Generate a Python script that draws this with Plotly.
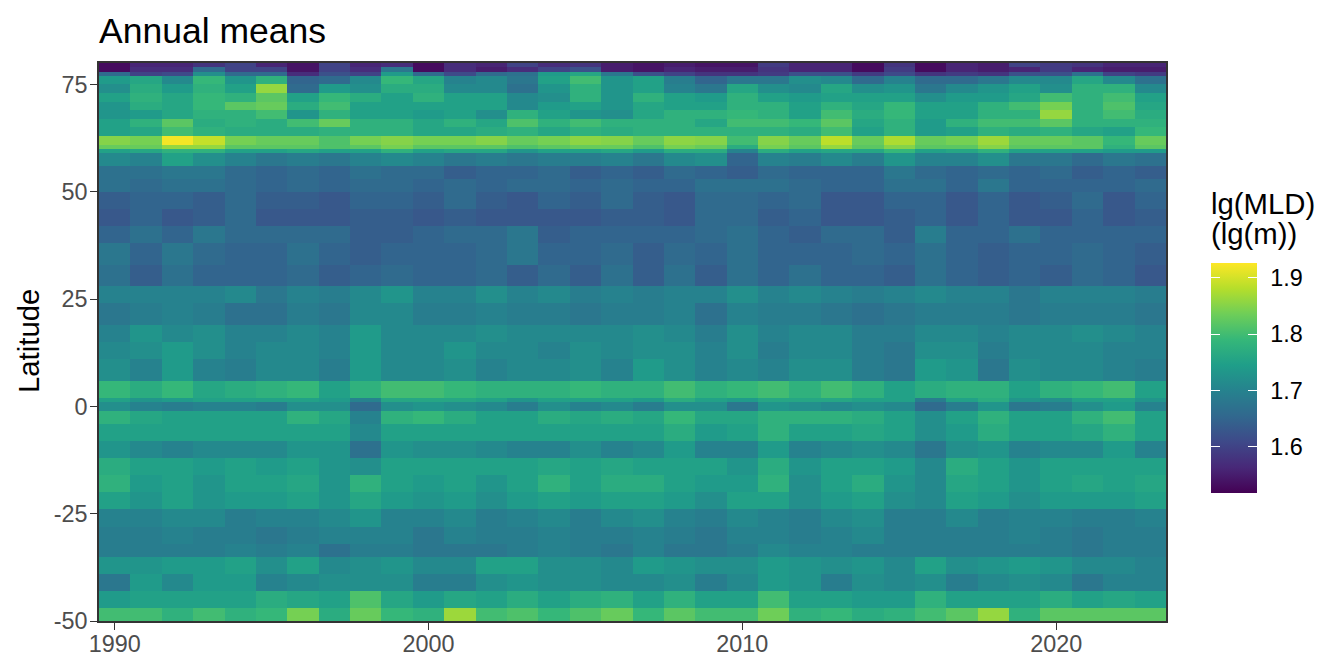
#!/usr/bin/env python3
"""
Annual mean mixed layer depth by latitude and year
"""

import plotly.graph_objects as go

years = list(range(1990, 2024))

# band edges in degrees, north to south (one more than rows in mld)
lat_edges = [80, 79, 78, 77, 75, 73, 71, 69, 67, 65, 63, 61, 60, 59, 56, 53, 50, 46, 42, 38, 33, 28,
             24, 19, 15, 11, 6, 2, 1, -1, -4, -8, -12, -16, -20, -24, -28, -32, -35, -39, -43, -47, -50]

# lg(MLD), one row per latitude band, one column per year
mld = [
    [1.53, 1.56, 1.56, 1.58, 1.60, 1.56, 1.54, 1.60, 1.56, 1.57, 1.53, 1.57, 1.56, 1.60, 1.57, 1.58, 1.55, 1.54, 1.55, 1.54, 1.54, 1.59, 1.56, 1.56, 1.53, 1.58, 1.53, 1.56, 1.55, 1.60, 1.59, 1.58, 1.56, 1.56],
    [1.53, 1.57, 1.57, 1.66, 1.60, 1.60, 1.54, 1.60, 1.57, 1.68, 1.53, 1.57, 1.55, 1.57, 1.60, 1.62, 1.55, 1.54, 1.56, 1.55, 1.55, 1.58, 1.56, 1.56, 1.53, 1.59, 1.53, 1.56, 1.55, 1.56, 1.59, 1.56, 1.55, 1.55],
    [1.66, 1.60, 1.61, 1.72, 1.66, 1.66, 1.57, 1.62, 1.60, 1.74, 1.66, 1.61, 1.66, 1.67, 1.74, 1.76, 1.68, 1.62, 1.60, 1.58, 1.58, 1.59, 1.62, 1.62, 1.59, 1.61, 1.58, 1.59, 1.58, 1.62, 1.62, 1.67, 1.60, 1.59],
    [1.74, 1.76, 1.71, 1.79, 1.73, 1.78, 1.65, 1.66, 1.71, 1.79, 1.76, 1.70, 1.71, 1.68, 1.75, 1.80, 1.73, 1.75, 1.69, 1.65, 1.68, 1.68, 1.72, 1.71, 1.66, 1.70, 1.66, 1.66, 1.68, 1.71, 1.71, 1.76, 1.71, 1.67],
    [1.72, 1.77, 1.74, 1.78, 1.75, 1.86, 1.66, 1.74, 1.72, 1.77, 1.77, 1.71, 1.71, 1.67, 1.73, 1.78, 1.73, 1.75, 1.70, 1.68, 1.76, 1.72, 1.71, 1.76, 1.72, 1.73, 1.68, 1.71, 1.73, 1.75, 1.72, 1.78, 1.78, 1.71],
    [1.75, 1.78, 1.76, 1.79, 1.78, 1.82, 1.75, 1.79, 1.77, 1.75, 1.78, 1.75, 1.75, 1.71, 1.72, 1.78, 1.73, 1.78, 1.75, 1.74, 1.78, 1.75, 1.74, 1.75, 1.75, 1.75, 1.72, 1.74, 1.74, 1.76, 1.80, 1.78, 1.80, 1.75],
    [1.73, 1.77, 1.76, 1.79, 1.82, 1.83, 1.77, 1.80, 1.75, 1.75, 1.75, 1.75, 1.75, 1.71, 1.74, 1.75, 1.73, 1.76, 1.75, 1.75, 1.78, 1.78, 1.75, 1.78, 1.76, 1.79, 1.75, 1.75, 1.78, 1.80, 1.84, 1.78, 1.81, 1.76],
    [1.73, 1.74, 1.76, 1.78, 1.78, 1.80, 1.73, 1.78, 1.75, 1.75, 1.74, 1.75, 1.72, 1.78, 1.75, 1.73, 1.72, 1.76, 1.78, 1.78, 1.79, 1.78, 1.75, 1.80, 1.77, 1.79, 1.75, 1.75, 1.78, 1.78, 1.86, 1.78, 1.80, 1.77],
    [1.75, 1.78, 1.82, 1.77, 1.78, 1.77, 1.80, 1.83, 1.78, 1.78, 1.76, 1.78, 1.76, 1.81, 1.78, 1.80, 1.78, 1.78, 1.78, 1.76, 1.80, 1.80, 1.79, 1.82, 1.76, 1.78, 1.74, 1.78, 1.80, 1.80, 1.82, 1.78, 1.78, 1.78],
    [1.75, 1.76, 1.80, 1.78, 1.77, 1.77, 1.77, 1.78, 1.78, 1.78, 1.76, 1.76, 1.77, 1.78, 1.76, 1.78, 1.77, 1.78, 1.78, 1.78, 1.78, 1.78, 1.77, 1.80, 1.75, 1.78, 1.74, 1.75, 1.78, 1.77, 1.78, 1.76, 1.75, 1.79],
    [1.85, 1.84, 1.92, 1.89, 1.84, 1.83, 1.83, 1.81, 1.84, 1.85, 1.84, 1.84, 1.85, 1.83, 1.84, 1.855, 1.85, 1.83, 1.855, 1.85, 1.80, 1.85, 1.83, 1.885, 1.83, 1.875, 1.83, 1.84, 1.865, 1.83, 1.83, 1.82, 1.79, 1.83],
    [1.83, 1.83, 1.86, 1.86, 1.82, 1.82, 1.82, 1.81, 1.82, 1.84, 1.82, 1.82, 1.82, 1.81, 1.82, 1.83, 1.83, 1.81, 1.84, 1.83, 1.77, 1.84, 1.82, 1.86, 1.82, 1.85, 1.82, 1.82, 1.85, 1.82, 1.82, 1.82, 1.78, 1.82],
    [1.75, 1.76, 1.78, 1.78, 1.75, 1.75, 1.76, 1.75, 1.75, 1.78, 1.75, 1.76, 1.76, 1.73, 1.75, 1.75, 1.76, 1.74, 1.77, 1.77, 1.70, 1.77, 1.75, 1.76, 1.76, 1.79, 1.75, 1.76, 1.78, 1.75, 1.75, 1.75, 1.74, 1.74],
    [1.71, 1.70, 1.75, 1.72, 1.70, 1.68, 1.69, 1.68, 1.70, 1.71, 1.70, 1.68, 1.69, 1.68, 1.69, 1.69, 1.70, 1.68, 1.71, 1.72, 1.65, 1.70, 1.69, 1.71, 1.69, 1.73, 1.70, 1.70, 1.72, 1.68, 1.68, 1.66, 1.68, 1.67],
    [1.67, 1.67, 1.68, 1.68, 1.66, 1.65, 1.66, 1.65, 1.67, 1.66, 1.66, 1.64, 1.65, 1.65, 1.66, 1.64, 1.65, 1.64, 1.66, 1.65, 1.64, 1.66, 1.65, 1.65, 1.65, 1.68, 1.66, 1.65, 1.66, 1.65, 1.66, 1.64, 1.65, 1.64],
    [1.67, 1.66, 1.67, 1.67, 1.66, 1.65, 1.66, 1.65, 1.66, 1.66, 1.65, 1.66, 1.65, 1.66, 1.66, 1.65, 1.66, 1.65, 1.65, 1.67, 1.67, 1.67, 1.66, 1.65, 1.65, 1.67, 1.67, 1.65, 1.68, 1.65, 1.65, 1.65, 1.65, 1.66],
    [1.64, 1.65, 1.65, 1.64, 1.66, 1.64, 1.64, 1.63, 1.65, 1.65, 1.64, 1.66, 1.64, 1.63, 1.65, 1.64, 1.66, 1.64, 1.63, 1.66, 1.66, 1.65, 1.66, 1.63, 1.63, 1.65, 1.65, 1.63, 1.65, 1.63, 1.64, 1.66, 1.63, 1.65],
    [1.63, 1.65, 1.63, 1.64, 1.66, 1.63, 1.63, 1.63, 1.64, 1.64, 1.63, 1.64, 1.63, 1.63, 1.63, 1.63, 1.64, 1.64, 1.63, 1.66, 1.66, 1.64, 1.65, 1.63, 1.63, 1.64, 1.65, 1.63, 1.65, 1.63, 1.63, 1.65, 1.63, 1.64],
    [1.65, 1.67, 1.65, 1.68, 1.66, 1.66, 1.66, 1.66, 1.64, 1.64, 1.65, 1.66, 1.66, 1.68, 1.64, 1.65, 1.65, 1.65, 1.65, 1.66, 1.67, 1.65, 1.64, 1.66, 1.66, 1.64, 1.69, 1.65, 1.65, 1.67, 1.65, 1.65, 1.65, 1.65],
    [1.68, 1.65, 1.68, 1.66, 1.65, 1.65, 1.67, 1.65, 1.64, 1.65, 1.65, 1.65, 1.66, 1.68, 1.65, 1.65, 1.66, 1.64, 1.66, 1.65, 1.67, 1.65, 1.65, 1.65, 1.66, 1.65, 1.67, 1.65, 1.64, 1.65, 1.65, 1.66, 1.65, 1.64],
    [1.67, 1.64, 1.67, 1.65, 1.65, 1.65, 1.66, 1.64, 1.65, 1.66, 1.65, 1.65, 1.66, 1.64, 1.66, 1.64, 1.67, 1.64, 1.67, 1.64, 1.67, 1.65, 1.67, 1.65, 1.65, 1.64, 1.67, 1.65, 1.64, 1.65, 1.64, 1.66, 1.65, 1.63],
    [1.70, 1.70, 1.70, 1.70, 1.71, 1.68, 1.70, 1.69, 1.71, 1.73, 1.70, 1.70, 1.72, 1.70, 1.71, 1.69, 1.70, 1.69, 1.70, 1.70, 1.72, 1.70, 1.71, 1.70, 1.69, 1.70, 1.71, 1.70, 1.70, 1.68, 1.70, 1.70, 1.70, 1.69],
    [1.68, 1.69, 1.70, 1.69, 1.67, 1.67, 1.69, 1.68, 1.71, 1.71, 1.69, 1.69, 1.70, 1.69, 1.69, 1.68, 1.69, 1.69, 1.70, 1.67, 1.70, 1.69, 1.69, 1.68, 1.67, 1.68, 1.69, 1.69, 1.69, 1.68, 1.69, 1.69, 1.69, 1.68],
    [1.70, 1.73, 1.71, 1.72, 1.70, 1.70, 1.71, 1.70, 1.74, 1.71, 1.71, 1.71, 1.72, 1.71, 1.71, 1.71, 1.71, 1.72, 1.71, 1.69, 1.72, 1.70, 1.71, 1.71, 1.69, 1.69, 1.71, 1.71, 1.70, 1.71, 1.71, 1.72, 1.71, 1.70],
    [1.71, 1.72, 1.74, 1.72, 1.70, 1.71, 1.71, 1.70, 1.74, 1.71, 1.71, 1.73, 1.71, 1.71, 1.70, 1.72, 1.71, 1.72, 1.72, 1.70, 1.72, 1.69, 1.71, 1.71, 1.69, 1.68, 1.72, 1.72, 1.69, 1.71, 1.71, 1.71, 1.70, 1.70],
    [1.72, 1.70, 1.74, 1.70, 1.69, 1.71, 1.71, 1.69, 1.74, 1.71, 1.71, 1.72, 1.70, 1.71, 1.71, 1.72, 1.70, 1.74, 1.72, 1.70, 1.71, 1.70, 1.72, 1.72, 1.69, 1.68, 1.74, 1.73, 1.68, 1.72, 1.71, 1.71, 1.70, 1.69],
    [1.79, 1.77, 1.79, 1.76, 1.77, 1.78, 1.79, 1.75, 1.78, 1.80, 1.80, 1.79, 1.78, 1.78, 1.78, 1.79, 1.78, 1.78, 1.80, 1.78, 1.79, 1.80, 1.78, 1.80, 1.78, 1.75, 1.77, 1.78, 1.78, 1.75, 1.78, 1.79, 1.80, 1.75],
    [1.75, 1.73, 1.74, 1.75, 1.75, 1.75, 1.75, 1.74, 1.70, 1.76, 1.76, 1.76, 1.75, 1.73, 1.75, 1.75, 1.75, 1.74, 1.77, 1.75, 1.74, 1.76, 1.76, 1.76, 1.75, 1.75, 1.69, 1.75, 1.77, 1.73, 1.72, 1.75, 1.75, 1.73],
    [1.72, 1.70, 1.69, 1.70, 1.70, 1.69, 1.72, 1.72, 1.66, 1.72, 1.73, 1.72, 1.71, 1.69, 1.72, 1.70, 1.71, 1.69, 1.72, 1.72, 1.68, 1.73, 1.72, 1.71, 1.72, 1.71, 1.66, 1.69, 1.73, 1.68, 1.69, 1.72, 1.74, 1.70],
    [1.78, 1.76, 1.75, 1.75, 1.75, 1.75, 1.78, 1.76, 1.70, 1.78, 1.79, 1.77, 1.75, 1.75, 1.77, 1.76, 1.77, 1.76, 1.79, 1.76, 1.76, 1.78, 1.78, 1.78, 1.77, 1.75, 1.72, 1.75, 1.78, 1.75, 1.75, 1.78, 1.80, 1.75],
    [1.75, 1.75, 1.75, 1.75, 1.75, 1.75, 1.75, 1.75, 1.71, 1.75, 1.75, 1.75, 1.75, 1.75, 1.75, 1.75, 1.75, 1.75, 1.77, 1.74, 1.75, 1.78, 1.75, 1.75, 1.76, 1.75, 1.72, 1.74, 1.77, 1.75, 1.75, 1.76, 1.78, 1.75],
    [1.73, 1.71, 1.70, 1.71, 1.71, 1.71, 1.73, 1.73, 1.67, 1.73, 1.72, 1.72, 1.71, 1.70, 1.70, 1.72, 1.70, 1.71, 1.74, 1.70, 1.70, 1.74, 1.70, 1.71, 1.72, 1.71, 1.68, 1.72, 1.73, 1.70, 1.71, 1.71, 1.74, 1.70],
    [1.77, 1.75, 1.75, 1.74, 1.75, 1.74, 1.75, 1.73, 1.72, 1.75, 1.75, 1.75, 1.75, 1.75, 1.76, 1.75, 1.76, 1.75, 1.75, 1.75, 1.73, 1.77, 1.73, 1.75, 1.75, 1.74, 1.71, 1.77, 1.75, 1.73, 1.75, 1.75, 1.75, 1.75],
    [1.78, 1.74, 1.75, 1.73, 1.75, 1.75, 1.76, 1.73, 1.78, 1.75, 1.74, 1.75, 1.73, 1.75, 1.78, 1.75, 1.77, 1.77, 1.75, 1.74, 1.74, 1.78, 1.72, 1.75, 1.77, 1.73, 1.71, 1.76, 1.75, 1.73, 1.75, 1.76, 1.75, 1.76],
    [1.75, 1.73, 1.75, 1.73, 1.74, 1.74, 1.75, 1.73, 1.76, 1.74, 1.73, 1.74, 1.72, 1.74, 1.75, 1.74, 1.75, 1.75, 1.74, 1.72, 1.75, 1.75, 1.72, 1.74, 1.75, 1.72, 1.71, 1.75, 1.74, 1.72, 1.74, 1.74, 1.74, 1.75],
    [1.70, 1.70, 1.71, 1.71, 1.69, 1.70, 1.70, 1.71, 1.73, 1.70, 1.70, 1.71, 1.69, 1.70, 1.71, 1.69, 1.71, 1.72, 1.70, 1.69, 1.71, 1.70, 1.69, 1.71, 1.72, 1.69, 1.69, 1.71, 1.69, 1.70, 1.70, 1.69, 1.69, 1.70],
    [1.69, 1.69, 1.70, 1.69, 1.69, 1.68, 1.69, 1.70, 1.70, 1.70, 1.68, 1.70, 1.69, 1.69, 1.70, 1.69, 1.69, 1.70, 1.69, 1.68, 1.70, 1.70, 1.69, 1.70, 1.71, 1.69, 1.69, 1.69, 1.69, 1.70, 1.69, 1.68, 1.69, 1.69],
    [1.69, 1.69, 1.69, 1.69, 1.70, 1.69, 1.70, 1.67, 1.69, 1.69, 1.68, 1.68, 1.68, 1.69, 1.70, 1.69, 1.68, 1.70, 1.68, 1.68, 1.69, 1.71, 1.70, 1.70, 1.69, 1.69, 1.69, 1.69, 1.69, 1.69, 1.69, 1.68, 1.69, 1.69],
    [1.73, 1.73, 1.74, 1.74, 1.75, 1.72, 1.75, 1.71, 1.72, 1.73, 1.71, 1.71, 1.75, 1.75, 1.72, 1.72, 1.71, 1.74, 1.73, 1.72, 1.72, 1.74, 1.73, 1.72, 1.73, 1.71, 1.75, 1.72, 1.73, 1.74, 1.73, 1.71, 1.71, 1.70],
    [1.68, 1.74, 1.71, 1.74, 1.74, 1.70, 1.71, 1.72, 1.72, 1.72, 1.69, 1.69, 1.72, 1.73, 1.72, 1.72, 1.71, 1.71, 1.72, 1.69, 1.71, 1.74, 1.73, 1.69, 1.72, 1.71, 1.72, 1.69, 1.71, 1.72, 1.71, 1.68, 1.70, 1.70],
    [1.74, 1.75, 1.75, 1.75, 1.75, 1.77, 1.76, 1.75, 1.81, 1.76, 1.74, 1.76, 1.75, 1.77, 1.75, 1.77, 1.78, 1.75, 1.78, 1.75, 1.75, 1.80, 1.75, 1.75, 1.74, 1.74, 1.78, 1.75, 1.75, 1.75, 1.77, 1.75, 1.76, 1.75],
    [1.80, 1.80, 1.78, 1.80, 1.78, 1.79, 1.84, 1.77, 1.83, 1.79, 1.78, 1.865, 1.80, 1.81, 1.79, 1.81, 1.83, 1.79, 1.82, 1.80, 1.80, 1.835, 1.78, 1.79, 1.77, 1.78, 1.80, 1.82, 1.86, 1.78, 1.82, 1.82, 1.82, 1.82],
]

x_ticks = [1990, 2000, 2010, 2020]
y_ticks = [-50, -25, 0, 25, 50, 75]
y_tick_labels = ['-50', '-25', '0', '25', '50', '75']
legend_ticks = [1.6, 1.7, 1.8, 1.9]

z_min = 1.518
z_max = 1.926

# year cell edges, so the cells start half a year before the first year
x_edges = [y - 0.5 for y in years] + [years[-1] + 0.5]

fig = go.Figure()
# the labelled key: its outside ticks are white on white, they only push the labels away from the bar
fig.add_trace(go.Heatmap(
    x=x_edges,
    y=lat_edges[::-1],
    z=mld[::-1],
    zmin=z_min,
    zmax=z_max,
    colorscale='Viridis',
    colorbar=dict(
        x=1.0422, xanchor='left', xpad=0,
        y=0.6416, yanchor='top', ypad=0,
        thickness=46, thicknessmode='pixels',
        len=230, lenmode='pixels',
        outlinewidth=0,
        tickmode='array', tickvals=legend_ticks,
        ticks='outside', ticklen=9, tickcolor='white', tickwidth=1,
        tickfont=dict(size=23.4, color='black'),
    ),
))
# two more bars on top, no labels, only for the white ticks on the right and left edge of the key
for bar_width in [46, 9]:
    fig.add_trace(go.Heatmap(
        x=x_edges,
        y=lat_edges[::-1],
        z=mld[::-1],
        zmin=z_min,
        zmax=z_max,
        colorscale='Viridis',
        hoverinfo='skip',
        colorbar=dict(
            x=1.0422, xanchor='left', xpad=0,
            y=0.6416, yanchor='top', ypad=0,
            thickness=bar_width, thicknessmode='pixels',
            len=230, lenmode='pixels',
            outlinewidth=0,
            tickmode='array', tickvals=legend_ticks,
            ticks='inside', ticklen=9, tickcolor='white', tickwidth=1,
            showticklabels=False,
        ),
    ))

fig.update_layout(
    width=1344,
    height=672,
    margin=dict(l=99, r=178, t=63, b=51),
    plot_bgcolor='white',
    paper_bgcolor='white',
    font=dict(family='Liberation Sans'),
    title=dict(text='Annual means', x=99 / 1344, xanchor='left', y=0.955, yanchor='middle',
               font=dict(size=35.5, color='black')),
    xaxis=dict(
        range=[1989.5, 2023.5], tickmode='array', tickvals=x_ticks, showgrid=False, zeroline=False,
        automargin=False, ticklabelstandoff=-6,
        showline=True, mirror=True, linecolor='#333333', linewidth=1.5,
        ticks='outside', ticklen=7, tickwidth=1.4, tickcolor='#333333', tickfont=dict(size=23.4, color='#4d4d4d'),
    ),
    yaxis=dict(
        range=[-50, 80], tickmode='array', tickvals=y_ticks, ticktext=y_tick_labels, showgrid=False, zeroline=False,
        automargin=False, ticklabelstandoff=-2,
        showline=True, mirror=True, linecolor='#333333', linewidth=1.5,
        ticks='outside', ticklen=7, tickwidth=1.4, tickcolor='#333333', tickfont=dict(size=23.4, color='#4d4d4d'),
    ),
    annotations=[
        dict(text='Latitude', textangle=-90, xref='paper', yref='paper', x=(28 - 99) / 1067, y=(621 - 341) / 558,
             xanchor='center', yanchor='middle', showarrow=False, font=dict(size=29.3, color='black')),
        dict(text='lg(MLD)', xref='paper', yref='paper', x=(1211 - 99) / 1067, y=(621 - 203) / 558,
             xanchor='left', yanchor='middle', showarrow=False, xshift=-2, font=dict(size=29.3, color='black')),
        dict(text='(lg(m))', xref='paper', yref='paper', x=(1211 - 99) / 1067, y=(621 - 233) / 558,
             xanchor='left', yanchor='middle', showarrow=False, xshift=-2, font=dict(size=29.3, color='black')),
    ],
)

# the page's default body margin would shift the whole figure by 8 px
fig.write_html("out.html", config={'displayModeBar': False},
               post_script="document.body.style.margin = '0';")
